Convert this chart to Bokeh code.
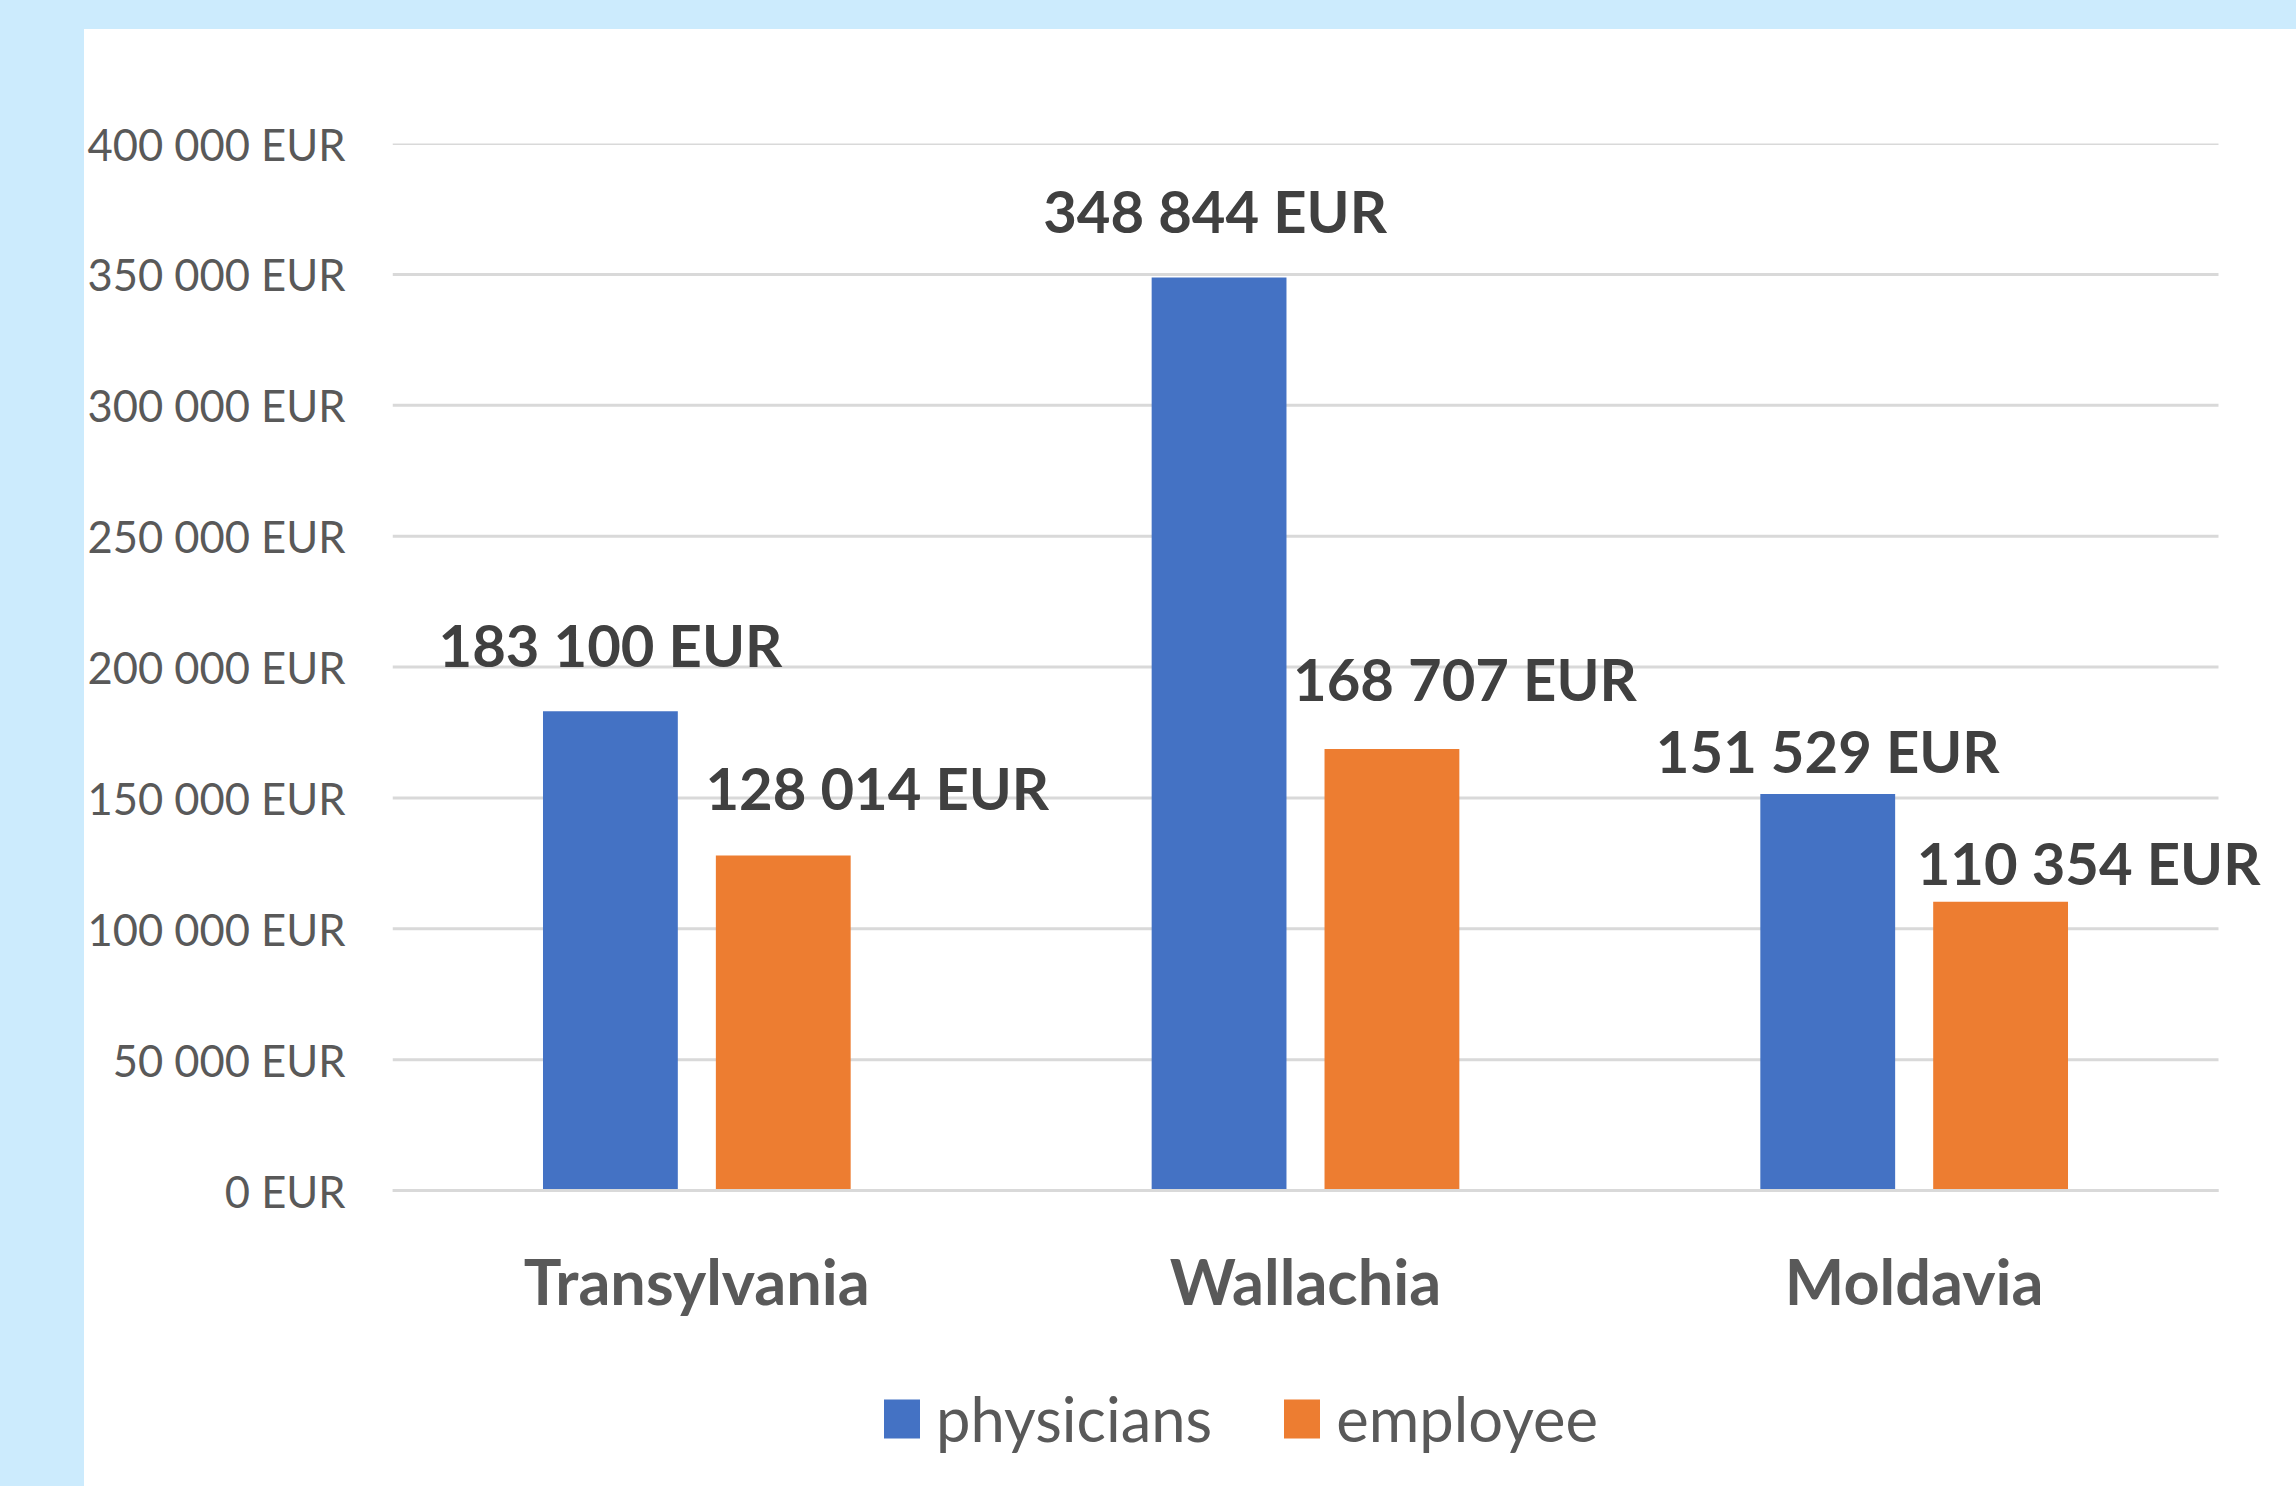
from bokeh.plotting import figure
from bokeh.models import (ColumnDataSource, Range1d, FixedTicker,
                          Legend, LegendItem, LabelSet)
from bokeh.transform import dodge
from bokeh.layouts import column
from bokeh.core.properties import value
from bokeh.embed import file_html
from bokeh.resources import INLINE

# ---- data ----
regions = ["Transylvania", "Wallachia", "Moldavia"]
physicians = [183100, 348844, 151529]
employee = [128014, 168707, 110354]
series_names = ["physicians", "employee"]
y_ticks = [0, 50000, 100000, 150000, 200000, 250000, 300000, 350000, 400000]

# ---- label placement (style, pixels) ----
phys_dx = [0, -4, 0]
phys_dy = [44, 44, 21]
emp_dx = [94, 73, 88]
emp_dy = [45, 48, 17]


def eur(v):
    return f"{v:,}".replace(",", " ") + " EUR"


BLUE = "#4472C4"
ORANGE = "#ED7D31"
GRID = "#D9D9D9"
TXT = "#595959"
LBL = "#404040"
FONT = "Lato"

# category slots: each region occupies one unit on the x scale
xpos = [i + 0.5 for i in range(len(regions))]
n_cat = len(regions)

src = ColumnDataSource(dict(
    region=regions, xpos=xpos,
    physicians=physicians,
    employee=employee,
    phys_label=[eur(v) for v in physicians],
    emp_label=[eur(v) for v in employee],
    phys_dx=phys_dx, phys_dy=phys_dy,
    emp_dx=emp_dx, emp_dy=emp_dy,
))
grid_src = ColumnDataSource(dict(y=y_ticks, x0=[0] * len(y_ticks),
                                 x1=[n_cat] * len(y_ticks)))

# plot area: categories span 1826 px, frame extends 78 px further right;
# value axis spans 1047.5 px for 400 000, frame extends 296 px below zero
y_max = y_ticks[-1]
p = figure(
    x_range=Range1d(0, n_cat * 1904 / 1826),
    y_range=Range1d(-y_max * 296 / 1047.5, y_max),
    width=2212, height=1457,
    output_backend="svg", toolbar_location=None,
    min_border_left=308, min_border_right=0,
    min_border_top=114, min_border_bottom=0,
    background_fill_color="white", border_fill_color="white",
    outline_line_color=None,
)
p.margin = (29, 0, 0, 84)
p.styles = {"background-color": "white"}

p.segment(x0="x0", x1="x1", y0="y", y1="y", source=grid_src,
          line_color=GRID, line_width=3)

off = 0.142
bw = 0.2215
r1 = p.vbar(x=dodge("xpos", -off), top="physicians", width=bw,
            source=src, fill_color=BLUE, line_color=None)
r2 = p.vbar(x=dodge("xpos", off), top="employee", width=bw,
            source=src, fill_color=ORANGE, line_color=None)

lab_style = dict(text_align="center", text_baseline="alphabetic",
                 text_font=value(FONT), text_font_style="bold",
                 text_font_size="58px", text_color=LBL)
p.add_layout(LabelSet(x=dodge("xpos", -off), y="physicians",
                      text="phys_label", x_offset="phys_dx", y_offset="phys_dy",
                      source=src, **lab_style))
p.add_layout(LabelSet(x=dodge("xpos", off), y="employee",
                      text="emp_label", x_offset="emp_dx", y_offset="emp_dy",
                      source=src, **lab_style))

# y axis
p.yaxis.ticker = FixedTicker(ticks=y_ticks)
p.yaxis.major_label_overrides = {t: eur(t) for t in y_ticks}
p.yaxis.axis_line_color = None
p.yaxis.major_tick_line_color = None
p.yaxis.minor_tick_line_color = None
p.yaxis.major_label_text_font = FONT
p.yaxis.major_label_text_font_size = "43.5px"
p.yaxis.major_label_text_color = TXT
p.yaxis.major_label_standoff = 41

# x (category) axis, sitting on the zero line
p.xaxis.fixed_location = 0
p.xaxis.bounds = (0, n_cat)
p.xaxis.ticker = FixedTicker(ticks=xpos)
p.xaxis.major_label_overrides = {x: r for x, r in zip(xpos, regions)}
p.xaxis.axis_line_color = GRID
p.xaxis.axis_line_width = 3
p.xaxis.major_tick_line_color = None
p.xaxis.minor_tick_line_color = None
p.xaxis.major_label_text_font = FONT
p.xaxis.major_label_text_font_style = "bold"
p.xaxis.major_label_text_font_size = "63px"
p.xaxis.major_label_text_color = TXT
p.xaxis.major_label_standoff = 46

p.xgrid.grid_line_color = None
p.ygrid.grid_line_color = None

legend = Legend(
    items=[LegendItem(label=series_names[0], renderers=[r1]),
           LegendItem(label=series_names[1], renderers=[r2])],
    orientation="horizontal",
    location=(487, 31),
    label_text_font=FONT, label_text_font_size="61.5px", label_text_color=TXT,
    glyph_width=45, glyph_height=49, label_standoff=12, spacing=67,
    padding=0, margin=0, border_line_color=None, background_fill_alpha=0,
)
p.add_layout(legend)

layout = column(p, styles={"background-color": "#CCEBFD"})

open("out.html", "w").write(file_html(layout, INLINE))
